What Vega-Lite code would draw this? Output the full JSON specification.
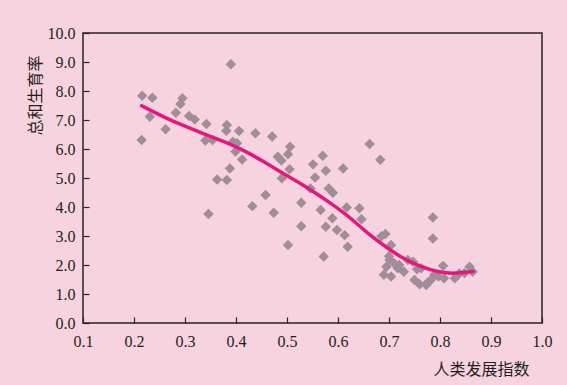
{
  "$schema": "https://vega.github.io/schema/vega-lite/v6.json",
  "autosize": "none",
  "width": 459,
  "height": 290,
  "padding": {"left": 83, "top": 33, "right": 25, "bottom": 62},
  "background": "#f6d3df",
  "config": {
    "view": {"stroke": "#2a2226", "strokeWidth": 1.5}
  },
  "datasets": {
    "pts": [
      {"hdi": 0.216, "tfr": 7.84}, {"hdi": 0.236, "tfr": 7.77}, {"hdi": 0.231, "tfr": 7.11}, {"hdi": 0.215, "tfr": 6.31},
      {"hdi": 0.262, "tfr": 6.68}, {"hdi": 0.282, "tfr": 7.25}, {"hdi": 0.291, "tfr": 7.55}, {"hdi": 0.295, "tfr": 7.75},
      {"hdi": 0.308, "tfr": 7.14}, {"hdi": 0.319, "tfr": 7.02}, {"hdi": 0.342, "tfr": 6.86}, {"hdi": 0.340, "tfr": 6.29},
      {"hdi": 0.354, "tfr": 6.31}, {"hdi": 0.382, "tfr": 6.83}, {"hdi": 0.381, "tfr": 6.63}, {"hdi": 0.406, "tfr": 6.62},
      {"hdi": 0.394, "tfr": 6.25}, {"hdi": 0.402, "tfr": 6.20}, {"hdi": 0.399, "tfr": 5.91}, {"hdi": 0.412, "tfr": 5.64},
      {"hdi": 0.388, "tfr": 5.33}, {"hdi": 0.363, "tfr": 4.95}, {"hdi": 0.382, "tfr": 4.93}, {"hdi": 0.390, "tfr": 8.92},
      {"hdi": 0.346, "tfr": 3.76}, {"hdi": 0.438, "tfr": 6.54},
      {"hdi": 0.471, "tfr": 6.43}, {"hdi": 0.506, "tfr": 6.08}, {"hdi": 0.502, "tfr": 5.82}, {"hdi": 0.482, "tfr": 5.73},
      {"hdi": 0.489, "tfr": 5.60}, {"hdi": 0.505, "tfr": 5.30}, {"hdi": 0.490, "tfr": 4.99}, {"hdi": 0.570, "tfr": 5.77},
      {"hdi": 0.551, "tfr": 5.47}, {"hdi": 0.576, "tfr": 5.25}, {"hdi": 0.610, "tfr": 5.33}, {"hdi": 0.555, "tfr": 5.02},
      {"hdi": 0.546, "tfr": 4.64}, {"hdi": 0.582, "tfr": 4.64}, {"hdi": 0.590, "tfr": 4.49}, {"hdi": 0.458, "tfr": 4.41},
      {"hdi": 0.432, "tfr": 4.03}, {"hdi": 0.528, "tfr": 4.15}, {"hdi": 0.474, "tfr": 3.80}, {"hdi": 0.566, "tfr": 3.90},
      {"hdi": 0.617, "tfr": 3.98}, {"hdi": 0.642, "tfr": 3.96}, {"hdi": 0.646, "tfr": 3.58}, {"hdi": 0.589, "tfr": 3.61},
      {"hdi": 0.528, "tfr": 3.34}, {"hdi": 0.576, "tfr": 3.32}, {"hdi": 0.598, "tfr": 3.21}, {"hdi": 0.613, "tfr": 3.03},
      {"hdi": 0.619, "tfr": 2.63}, {"hdi": 0.502, "tfr": 2.69}, {"hdi": 0.572, "tfr": 2.29}, {"hdi": 0.662, "tfr": 6.17},
      {"hdi": 0.683, "tfr": 5.63},
      {"hdi": 0.693, "tfr": 3.07}, {"hdi": 0.685, "tfr": 2.99}, {"hdi": 0.704, "tfr": 2.69}, {"hdi": 0.701, "tfr": 2.17},
      {"hdi": 0.710, "tfr": 2.06}, {"hdi": 0.695, "tfr": 1.94}, {"hdi": 0.690, "tfr": 1.66}, {"hdi": 0.704, "tfr": 1.60},
      {"hdi": 0.729, "tfr": 1.77}, {"hdi": 0.747, "tfr": 2.11}, {"hdi": 0.763, "tfr": 1.89}, {"hdi": 0.750, "tfr": 1.48},
      {"hdi": 0.760, "tfr": 1.34}, {"hdi": 0.773, "tfr": 1.31}, {"hdi": 0.782, "tfr": 1.48}, {"hdi": 0.789, "tfr": 1.66},
      {"hdi": 0.806, "tfr": 1.97}, {"hdi": 0.808, "tfr": 1.54}, {"hdi": 0.829, "tfr": 1.54}, {"hdi": 0.838, "tfr": 1.71},
      {"hdi": 0.858, "tfr": 1.94}, {"hdi": 0.864, "tfr": 1.77}, {"hdi": 0.786, "tfr": 3.64}, {"hdi": 0.786, "tfr": 2.91},
      {"hdi": 0.717, "tfr": 1.89}, {"hdi": 0.737, "tfr": 2.17}, {"hdi": 0.700, "tfr": 2.30}, {"hdi": 0.797, "tfr": 1.60},
      {"hdi": 0.848, "tfr": 1.72}, {"hdi": 0.776, "tfr": 1.40}, {"hdi": 0.755, "tfr": 1.85}, {"hdi": 0.720, "tfr": 2.00}
    ],
    "curve": [
      {"hdi": 0.215, "tfr": 7.49}, {"hdi": 0.257, "tfr": 7.11}, {"hdi": 0.300, "tfr": 6.78}, {"hdi": 0.350, "tfr": 6.43},
      {"hdi": 0.388, "tfr": 6.18}, {"hdi": 0.427, "tfr": 5.84}, {"hdi": 0.446, "tfr": 5.65}, {"hdi": 0.492, "tfr": 5.16},
      {"hdi": 0.523, "tfr": 4.85}, {"hdi": 0.544, "tfr": 4.62}, {"hdi": 0.590, "tfr": 4.08}, {"hdi": 0.623, "tfr": 3.65},
      {"hdi": 0.654, "tfr": 3.15}, {"hdi": 0.694, "tfr": 2.62}, {"hdi": 0.720, "tfr": 2.30}, {"hdi": 0.760, "tfr": 1.95},
      {"hdi": 0.800, "tfr": 1.74}, {"hdi": 0.830, "tfr": 1.70}, {"hdi": 0.865, "tfr": 1.78}
    ]
  },
  "encoding": {
    "x": {
      "field": "hdi", "type": "quantitative",
      "scale": {"domain": [0.1, 1.0], "nice": false, "zero": false},
      "axis": {
        "title": "人类发展指数",
        "values": [0.1, 0.2, 0.3, 0.4, 0.5, 0.6, 0.7, 0.8, 0.9, 1.0],
        "format": ".1f",
        "grid": false,
        "domain": false,
        "labelOverlap": false,
        "labelFlush": false,
        "tickColor": "#2a2226",
        "tickSize": -6,
        "tickWidth": 1.2,
        "labelFont": "Liberation Serif",
        "labelFontSize": 16,
        "labelColor": "#231f20",
        "labelPadding": 16,
        "titleFont": "Noto Sans CJK SC",
        "titleFontSize": 16,
        "titleFontWeight": "normal",
        "titleColor": "#231f20",
        "titleX": 398,
        "titleY": 46,
        "titleAlign": "center",
        "titleBaseline": "middle"
      }
    },
    "y": {
      "field": "tfr", "type": "quantitative",
      "scale": {"domain": [0, 10], "nice": false},
      "axis": {
        "title": "总和生育率",
        "values": [0, 1, 2, 3, 4, 5, 6, 7, 8, 9, 10],
        "format": ".1f",
        "grid": false,
        "domain": false,
        "labelOverlap": false,
        "labelFlush": false,
        "tickColor": "#2a2226",
        "tickSize": -6,
        "tickWidth": 1.2,
        "labelFont": "Liberation Serif",
        "labelFontSize": 16,
        "labelColor": "#231f20",
        "labelPadding": 14,
        "titleFont": "Noto Sans CJK SC",
        "titleFontSize": 16,
        "titleFontWeight": "normal",
        "titleColor": "#231f20",
        "titleAngle": -90,
        "titleX": -48,
        "titleY": 62,
        "titleAlign": "center",
        "titleBaseline": "middle"
      }
    }
  },
  "layer": [
    {
      "data": {"name": "pts"},
      "mark": {"type": "point", "shape": "diamond", "filled": true, "size": 110, "color": "#a08d98", "opacity": 1}
    },
    {
      "data": {"name": "curve"},
      "mark": {"type": "line", "interpolate": "basis", "color": "#e4177f", "strokeWidth": 3.5, "strokeCap": "round"}
    }
  ]
}
